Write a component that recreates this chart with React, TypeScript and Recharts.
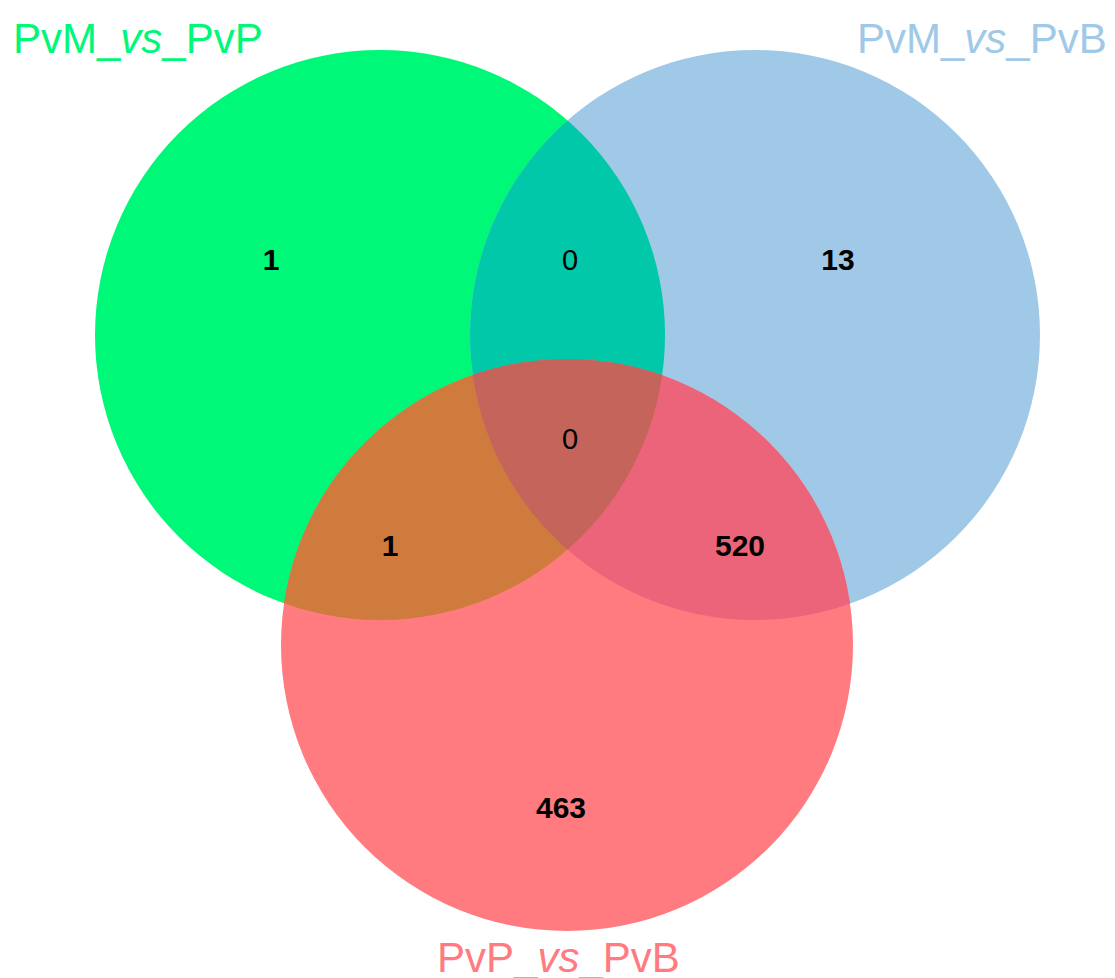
import { ScatterChart, Scatter, XAxis, YAxis } from "recharts";

const W = 1115;
const H = 978;
const FONT = "'Liberation Sans', Arial, sans-serif";

// the three comparisons
const setNames = ["PvM_vs_PvP", "PvM_vs_PvB", "PvP_vs_PvB"];
const setColors = ["#00F878", "#9FC9E7", "#FF7B80"];

// regions: only A, only B, only C, A∩B, A∩C, B∩C, A∩B∩C
const regionKeys = ["A", "B", "C", "AB", "AC", "BC", "ABC"];
const regionCounts = [1, 13, 463, 0, 1, 520, 0];

// layout (chart units == pixels here)
const circleX = [380, 755, 567];
const circleY = [335, 335, 645];
const circleR = [285, 285, 286];
const labelX = [271, 838, 561, 570, 390, 740, 570];
const labelY = [270, 270, 818, 270, 556, 556, 449];
const titleX = [13, 857, 437];
const titleY = [53, 53, 972];

// overlap fills (drawn circle is clipped by the other sets)
const overlaps = [
  { draw: 1, clips: [0], fill: "#00C8A8" },
  { draw: 2, clips: [0], fill: "#D07B3E" },
  { draw: 2, clips: [1], fill: "#EC6479" },
  { draw: 2, clips: [0, 1], fill: "#C4645A" },
];

const PX = W / W; // px per x unit (domain matches plot width)

const circleData = setNames.map((name, i) => ({
  x: circleX[i],
  y: circleY[i],
  r: circleR[i],
  idx: i,
  fill: setColors[i],
}));

const overlapData = overlaps.map((o) => ({
  x: circleX[o.draw],
  y: circleY[o.draw],
  r: circleR[o.draw],
  clips: o.clips,
  fill: o.fill,
}));

const labelData = regionKeys.map((k, i) => ({
  x: labelX[i],
  y: labelY[i],
  key: k,
  count: regionCounts[i],
}));

const titleData = setNames.map((name, i) => ({
  x: titleX[i],
  y: titleY[i],
  name,
  color: setColors[i],
}));

const CircleShape = (props: any) => {
  const { cx, cy, payload } = props;
  const r = payload.r * PX;
  return (
    <g>
      <defs>
        <clipPath id={`venn-clip-${payload.idx}`}>
          <circle cx={cx} cy={cy} r={r} />
        </clipPath>
      </defs>
      <circle cx={cx} cy={cy} r={r} fill={payload.fill} />
    </g>
  );
};

const OverlapShape = (props: any) => {
  const { cx, cy, payload } = props;
  let node: any = <circle cx={cx} cy={cy} r={payload.r * PX} fill={payload.fill} />;
  payload.clips.forEach((c: number) => {
    node = <g clipPath={`url(#venn-clip-${c})`}>{node}</g>;
  });
  return node;
};

const LabelShape = (props: any) => {
  const { cx, cy, payload } = props;
  const isZero = payload.count === 0;
  return (
    <text
      x={cx}
      y={cy}
      textAnchor="middle"
      fontFamily={FONT}
      fontSize={isZero ? 29 : 30}
      fontWeight={isZero ? "normal" : "bold"}
      fill="#000"
    >
      {payload.count}
    </text>
  );
};

const TitleShape = (props: any) => {
  const { cx, cy, payload } = props;
  const [a, b] = payload.name.split("_vs_");
  return (
    <text x={cx} y={cy} fontFamily={FONT} fontSize={42} fill={payload.color}>
      <tspan>{a}_</tspan>
      <tspan fontStyle="italic">vs</tspan>
      <tspan>_{b}</tspan>
    </text>
  );
};

export default function App() {
  return (
    <div style={{ position: "absolute", left: 0, top: 0, width: W, height: H, background: "#fff" }}>
      <ScatterChart width={W} height={H} margin={{ top: 0, right: 0, bottom: 0, left: 0 }}>
        <XAxis type="number" dataKey="x" domain={[0, W]} hide allowDataOverflow />
        <YAxis type="number" dataKey="y" domain={[0, H]} reversed hide allowDataOverflow />
        <Scatter data={circleData} shape={CircleShape} isAnimationActive={false} />
        <Scatter data={overlapData} shape={OverlapShape} isAnimationActive={false} />
        <Scatter data={labelData} shape={LabelShape} isAnimationActive={false} />
        <Scatter data={titleData} shape={TitleShape} isAnimationActive={false} />
      </ScatterChart>
    </div>
  );
}
